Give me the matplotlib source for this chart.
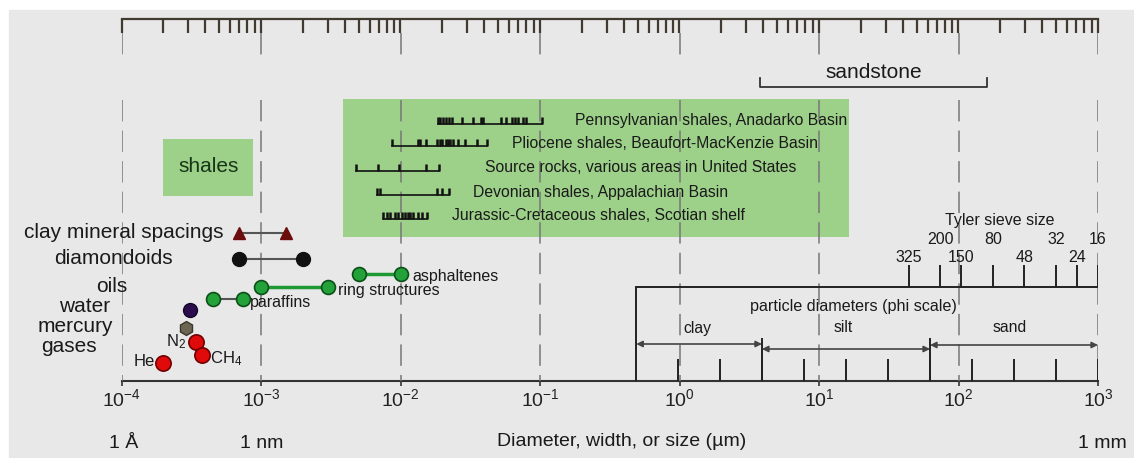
import numpy as np
import matplotlib.pyplot as plt
from matplotlib.patches import Rectangle
from matplotlib.ticker import LogLocator, NullFormatter, FixedLocator, FixedFormatter

plt.rcParams['font.family'] = ['Liberation Sans', 'DejaVu Sans']
plt.rcParams['mathtext.fontset'] = 'custom'
plt.rcParams['mathtext.rm'] = 'Liberation Sans'
plt.rcParams['mathtext.it'] = 'Liberation Sans'

# ---- data (sizes in micrometres) ----
decades = [1e-4, 1e-3, 1e-2, 1e-1, 1e0, 1e1, 1e2, 1e3]
decade_labels = ['$10^{-4}$', '$10^{-3}$', '$10^{-2}$', '$10^{-1}$',
                 '$10^{0}$', '$10^{1}$', '$10^{2}$', '$10^{3}$']
unit_names = ['1 Å', '1 nm', '1 mm']
unit_sizes = [1e-4, 1e-3, 1e3]

clay_spacings = [7.0e-4, 1.5e-3]
diamondoids = [7.0e-4, 2.0e-3]
paraffins = [4.5e-4, 7.4e-4]
ring_structures = [1.0e-3, 3.0e-3]
asphaltenes = [5.0e-3, 1.0e-2]
water = 3.1e-4
mercury = 2.9e-4
gas_names = ['He', 'N$_2$', 'CH$_4$']
gas_sizes = [2.0e-4, 3.4e-4, 3.8e-4]

shales_range = [2.0e-4, 8.8e-4]
shale_box_range = [3.9e-3, 16.4]
shale_names = ['Pennsylvanian shales, Anadarko Basin',
               'Pliocene shales, Beaufort-MacKenzie Basin',
               'Source rocks, various areas in United States',
               'Devonian shales, Appalachian Basin',
               'Jurassic-Cretaceous shales, Scotian shelf']
penn_ticks = [0.0186, 0.0192, 0.0202, 0.0212, 0.0223, 0.0234, 0.0276, 0.0331,
              0.0378, 0.039, 0.0525, 0.057, 0.063, 0.0662, 0.0695, 0.0755,
              0.0794, 0.1033]
plio_ticks = [0.0087, 0.0133, 0.0138, 0.0152, 0.0183, 0.0192, 0.0198, 0.0212,
              0.022, 0.0228, 0.0238, 0.0258, 0.029, 0.0353, 0.0417]
source_ticks = [0.0048, 0.0069, 0.0097, 0.0152, 0.0189]
devon_ticks = [0.0068, 0.0071, 0.0183, 0.0198, 0.0223]
jura_ticks = [0.0075, 0.0080, 0.0084, 0.0091, 0.0096, 0.0103, 0.0108, 0.0113,
              0.0117, 0.0123, 0.0133, 0.0143, 0.0155]
shale_ticks = [penn_ticks, plio_ticks, source_ticks, devon_ticks, jura_ticks]

sandstone_range = [3.8, 160]

tyler_mesh = [325, 200, 150, 80, 48, 32, 24, 16]
tyler_opening = [44, 74, 105, 177, 297, 500, 710, 1000]

phi_diameters = [1000, 500, 250, 125, 62.5, 31.25, 15.6, 7.8, 3.9, 1.95, 0.98, 0.49]
grain_classes = ['clay', 'silt', 'sand']
grain_bounds = [0.49, 3.9, 62.5, 1000]


def xpix(p):
    # pixel column of the 1134 px figure -> micrometres on the log axis
    return 10 ** (-4 + (p - 121.5) / 139.5)


W, H = 1134, 458
fig = plt.figure(figsize=(W / 100, H / 100), dpi=100, facecolor='white')
fig.patches.append(Rectangle((9 / W, 0), 1, 1 - 10 / H, transform=fig.transFigure,
                             color='#e8e8e8', zorder=-10))
ax = fig.add_axes([121.5 / W, 1 - 381 / H, (1098 - 121.5) / W, (381 - 19) / H])
ax.set_facecolor('none')
ax.set_xscale('log')
ax.set_xlim(1e-4, 1e3)
ax.set_ylim(381, 19)
for s in ['left', 'right', 'top']:
    ax.spines[s].set_visible(False)
ax.spines['bottom'].set_linewidth(1.5)
ax.spines['bottom'].set_color('#333333')
ax.set_yticks([])
ax.xaxis.set_major_locator(FixedLocator(decades))
ax.xaxis.set_major_formatter(FixedFormatter(decade_labels))
ax.xaxis.set_minor_locator(FixedLocator([]))
ax.tick_params(axis='x', which='major', direction='out', length=3.5, width=1.2,
               color='#333333', labelsize=14, pad=2, labelcolor='#222222')

# top axis with minor ticks
ax2 = ax.twiny()
ax2.set_xscale('log')
ax2.set_xlim(1e-4, 1e3)
for s in ['left', 'right', 'bottom']:
    ax2.spines[s].set_visible(False)
ax2.spines['top'].set_linewidth(1.6)
ax2.spines['top'].set_color('#403a30')
ax2.xaxis.set_major_locator(FixedLocator(decades))
ax2.xaxis.set_minor_locator(LogLocator(base=10, subs=np.arange(2, 10), numticks=20))
ax2.xaxis.set_minor_formatter(NullFormatter())
ax2.tick_params(axis='x', which='both', direction='in', length=10, width=1.6,
                color='#403a30', labeltop=False)

# dashed decade grid
ax.vlines(decades, 33, 62, colors='#777777', lw=1.1, linestyles=(0, (14, 6)), zorder=3)
ax.vlines(decades, 100, 381, colors='#777777', lw=1.1, linestyles=(0, (14, 6)), zorder=3)

# sandstone bracket
x1, x2 = sandstone_range
ax.plot([x1, x1, x2, x2], [78, 87, 87, 78], color='#333333', lw=1.3)
ax.text(np.sqrt(x1 * x2), 73, 'sandstone', fontsize=15, ha='center', va='center',
        color='#1a1a1a')

# shales box
ax.fill_between(shales_range, 139, 196, color='#9dd089', lw=0, zorder=1)
ax.text(np.sqrt(shales_range[0] * shales_range[1]), 167, 'shales', fontsize=15,
        ha='center', va='center', color='#173517', zorder=4)

# big shale pore-size box
ax.fill_between(shale_box_range, 99, 237, color='#9dd089', lw=0, zorder=1)
row_y = [124, 146, 171, 195, 219]
text_x = [575, 512, 485, 473, 452]
for name, ticks, y, tx in zip(shale_names, shale_ticks, row_y, text_x):
    ax.plot([min(ticks), max(ticks)], [y, y], color='#111111', lw=1.2, zorder=4)
    ax.vlines(ticks, y - 7, y, colors='#111111', lw=1.8, zorder=4)
    ax.text(xpix(tx), y - 3, name, fontsize=11.3, ha='left', va='center',
            color='#1a1a1a', zorder=4)

# left row labels
row_labels = ['clay mineral spacings', 'diamondoids', 'oils', 'water', 'mercury', 'gases']
label_right = [223, 173, 127, 110, 113, 97]
label_y = [233, 259, 287, 307, 327, 347]
for t, xr, y in zip(row_labels, label_right, label_y):
    ax.text(xpix(xr), y, t, fontsize=15, ha='right', va='center', color='#1a1a1a',
            clip_on=False)

# molecules / spacings
ax.plot(clay_spacings, [233, 233], color='#555555', lw=1.5, zorder=4)
ax.plot(clay_spacings, [233, 233], '^', ls='none', color='#6b0d0d', ms=8, zorder=5)
ax.plot(diamondoids, [259, 259], color='#555555', lw=1.5, zorder=4)
ax.plot(diamondoids, [259, 259], 'o', ls='none', color='#111111', ms=10, zorder=5)

oil_sets = [paraffins, ring_structures, asphaltenes]
oil_y = [299, 287, 274]
oil_names = ['paraffins', 'ring structures', 'asphaltenes']
oil_text_x = [250, 338, 412]
for vals, y, name, tx in zip(oil_sets, oil_y, oil_names, oil_text_x):
    lw = 1.5 if name == 'paraffins' else 2.5
    col = '#555555' if name == 'paraffins' else '#1f9a33'
    ax.plot(vals, [y, y], color=col, lw=lw, zorder=4)
    ax.plot(vals, [y, y], 'o', ls='none', mfc='#23a23a', mec='#0c4f18', mew=1.2,
            ms=10, zorder=5)
    ax.text(xpix(tx), y + 3, name, fontsize=11.5, ha='left', va='center',
            color='#1a1a1a', zorder=6)

ax.plot([water], [310], 'o', color='#2b0d4d', mec='#140528', ms=10, zorder=5)
ax.plot([mercury], [328], 'h', color='#6b6552', mec='#3a3628', ms=10, zorder=5)

gas_y = [363, 342, 355]
ax.plot(gas_sizes, gas_y, 'o', ls='none', mfc='#e00a0a', mec='#700000', mew=1.2,
        ms=11, zorder=5)
ax.text(xpix(155), 362, gas_names[0], fontsize=12, ha='right', va='center', color='#1a1a1a')
ax.text(xpix(166), 342, gas_names[1], fontsize=12, ha='left', va='center', color='#1a1a1a')
ax.text(xpix(210), 359, gas_names[2], fontsize=12, ha='left', va='center', color='#1a1a1a')

# Tyler sieve scale
ax.vlines(tyler_opening, 265, 287, colors='#222222', lw=1.4, zorder=4)
for i, (m, d) in enumerate(zip(tyler_mesh, tyler_opening)):
    y = 257 if i % 2 == 0 else 240
    ax.text(d, y, str(m), fontsize=11.5, ha='center', va='center', color='#1a1a1a')
ax.text(xpix(1000), 220, 'Tyler sieve size', fontsize=11.5, ha='center',
        va='center', color='#1a1a1a')

# phi scale box
ax.plot([grain_bounds[0], grain_bounds[-1]], [287, 287], color='#222222', lw=1.4, zorder=4)
ax.vlines([grain_bounds[0]], 287, 381, colors='#222222', lw=1.4, zorder=4)
ax.vlines(grain_bounds[1:3], 338, 381, colors='#222222', lw=1.4, zorder=4)
ax.vlines(phi_diameters[:-1], 359, 381, colors='#222222', lw=1.4, zorder=4)
ax.text(xpix(853), 307, 'particle diameters (phi scale)', fontsize=11.6, ha='center',
        va='center', color='#1a1a1a')
arrow_y = [344, 349, 345]
for name, a, b, y in zip(grain_classes, grain_bounds[:-1], grain_bounds[1:], arrow_y):
    ax.annotate('', xy=(b, y), xytext=(a, y),
                arrowprops=dict(arrowstyle='<|-|>', color='#444444', lw=1.2,
                                mutation_scale=9, shrinkA=0, shrinkB=0), zorder=4)
ax.text(xpix(697), 328, 'clay', fontsize=11.3, ha='center', va='center', color='#1a1a1a')
ax.text(xpix(843), 328, 'silt', fontsize=11.3, ha='center', va='center', color='#1a1a1a')
ax.text(xpix(1010), 328, 'sand', fontsize=11.3, ha='center', va='center', color='#1a1a1a')

# bottom unit labels
unit_x = [124, 262, 1102]
for t, px in zip(unit_names, unit_x):
    ax.text(xpix(px), 444, t, fontsize=14, ha='center', va='center', color='#1a1a1a',
            clip_on=False)
ax.text(xpix(622), 441, 'Diameter, width, or size (µm)', fontsize=14, ha='center',
        va='center', color='#1a1a1a', clip_on=False)

fig.savefig('out.png', dpi=100, facecolor='white')
